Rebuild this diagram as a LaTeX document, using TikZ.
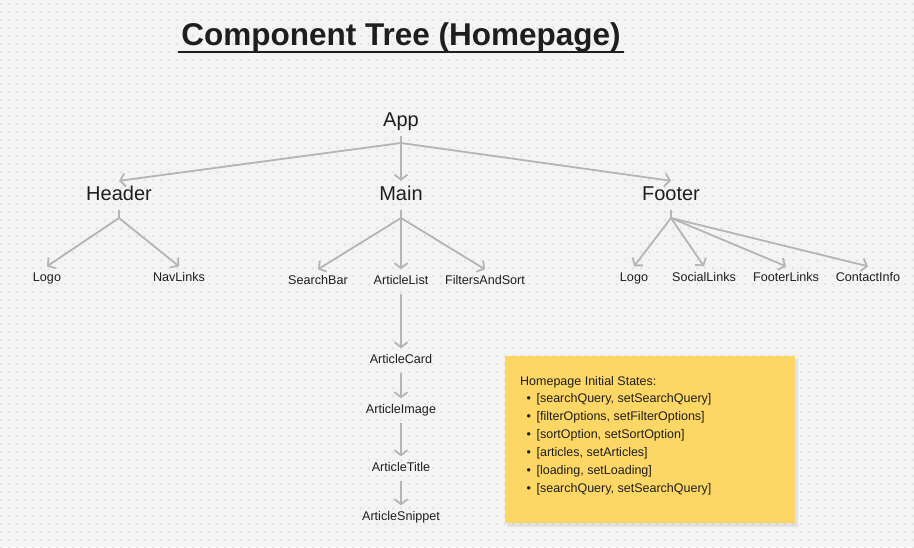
\documentclass[tikz,border=0pt]{standalone}
\usepackage{fontspec}
\setmainfont{Liberation Sans}
\usepackage{xcolor}
\usepackage{tikz}
\usetikzlibrary{positioning, arrows.meta}

\definecolor{bgc}{HTML}{F4F4F4}
\definecolor{dotc}{HTML}{E3E3E3}
\definecolor{linec}{HTML}{B5B5B5}
\definecolor{notec}{HTML}{FDD765}
\definecolor{textc}{HTML}{1E1E1E}

\begin{document}
\begin{tikzpicture}[x=1pt, y=-1pt,
  big/.style={font=\fontsize{20}{24}\selectfont, text=textc, inner sep=5.5pt, text height=14pt, text depth=4pt},
  leaf/.style={font=\fontsize{12.6}{15}\selectfont, text=textc, inner sep=6pt, text height=9pt, text depth=3pt},
  notetext/.style={font=\fontsize{12.5}{15}\selectfont, text=textc, inner sep=0pt, anchor=west},
  link/.style={draw=linec, line width=1.8pt},
  linkarr/.style={link, -{Straight Barb[length=5pt, width=13pt]}}]
\useasboundingbox (0,0) rectangle (914,547);
\fill[bgc] (0,0) rectangle (914,547);
\fill[dotc] \foreach \x in {0,8,...,912} {\foreach \y in {3,11,...,547} {(\x,\y) rectangle ++(2,2)}};

\node(title) [anchor=base, font=\fontsize{31.5}{36}\selectfont\bfseries, text=textc] at (401,45) {Component Tree (Homepage)};
\draw[textc, line width=2.5pt] (title.base west |- 0,52) -- (title.base east |- 0,52);

\node(app) [big] at (401,121) {App};
\node(header) [big] at (119,195.5) {Header};
\node(main) [big] at (401,195.5) {Main};
\node(footer) [big] at (671,195.5) {Footer};

\node(hlogo) [leaf] at (47,278.5) {Logo};
\node(navlinks) [leaf] at (179,278.5) {NavLinks};

\node(searchbar) [leaf] at (318,281.5) {SearchBar};
\node(articlelist) [leaf] at (401,281.5) {ArticleList};
\node(filters) [leaf] at (485,281.5) {FiltersAndSort};

\node(flogo) [leaf] at (634,278.5) {Logo};
\node(social) [leaf] at (704,278.5) {SocialLinks};
\node(footerlinks) [leaf] at (786,278.5) {FooterLinks};
\node(contact) [leaf] at (868,278.5) {ContactInfo};

\node(card) [leaf] at (401,360.5) {ArticleCard};
\node(image) [leaf] at (401,410.5) {ArticleImage};
\node(atitle) [leaf] at (401,468.5) {ArticleTitle};
\node(snippet) [leaf] at (401,517.5) {ArticleSnippet};

\coordinate(japp) at (401,143);
\coordinate(jheader) at (119,218);
\coordinate(jmain) at (401,218);
\coordinate(jfooter) at (671,218);

\draw[link] (app) -- (japp);
\draw[linkarr] (japp) -- (header.north);
\draw[linkarr] (japp) -- (main.north);
\draw[linkarr] (japp) -- (footer.north);

\draw[link] (header) -- (jheader);
\draw[linkarr] (jheader) -- (hlogo.north);
\draw[linkarr] (jheader) -- (navlinks.north);

\draw[link] (main) -- (jmain);
\draw[linkarr] (jmain) -- (searchbar.north);
\draw[linkarr] (jmain) -- (articlelist.north);
\draw[linkarr] (jmain) -- (filters.north);

\draw[link] (footer) -- (jfooter);
\draw[linkarr] (jfooter) -- (flogo.north);
\draw[linkarr] (jfooter) -- (social.north);
\draw[linkarr] (jfooter) -- (footerlinks.north);
\draw[linkarr] (jfooter) -- (contact.north);

\draw[linkarr] (articlelist) -- (card);
\draw[linkarr] (card) -- (image);
\draw[linkarr] (image) -- (atitle);
\draw[linkarr] (atitle) -- (snippet);

\fill[black, opacity=0.07] (507,359) rectangle (798,527);
\fill[notec] (505,356) rectangle (795,523);
\node(notehead) [notetext] at (520,382) {Homepage Initial States:};
\node(s1) [notetext] at (526.5,399.5) {\textbullet\hspace{5.5pt}[searchQuery, setSearchQuery]};
\node(s2) [notetext] at (526.5,417.5) {\textbullet\hspace{5.5pt}[filterOptions, setFilterOptions]};
\node(s3) [notetext] at (526.5,435.5) {\textbullet\hspace{5.5pt}[sortOption, setSortOption]};
\node(s4) [notetext] at (526.5,453.5) {\textbullet\hspace{5.5pt}[articles, setArticles]};
\node(s5) [notetext] at (526.5,471.5) {\textbullet\hspace{5.5pt}[loading, setLoading]};
\node(s6) [notetext] at (526.5,489.5) {\textbullet\hspace{5.5pt}[searchQuery, setSearchQuery]};
\end{tikzpicture}
\end{document}
